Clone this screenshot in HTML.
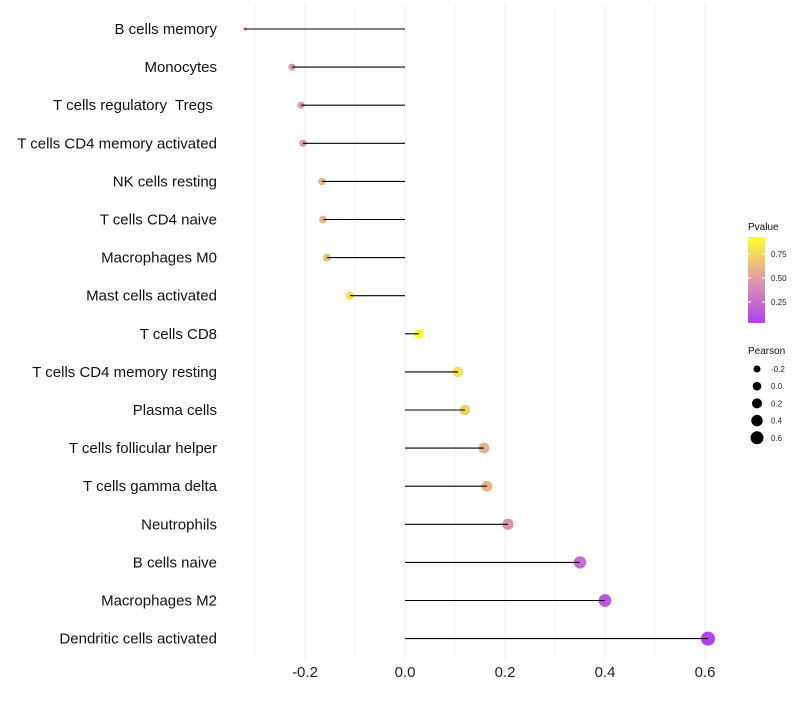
<!DOCTYPE html>
<html><head><meta charset="utf-8"><style>
body{margin:0;background:#fff;font-family:"Liberation Sans",sans-serif}
text{white-space:pre}
</style></head><body>
<svg id="chart" width="800" height="700" xmlns="http://www.w3.org/2000/svg">
<defs><linearGradient id="pg" x1="0" y1="1" x2="0" y2="0">
<stop offset="0" stop-color="#A020F0"/><stop offset="0.5" stop-color="#D88A9A"/><stop offset="1" stop-color="#FFFF00"/></linearGradient></defs>
<g id="grid"></g><g id="marks"></g><g id="labels"></g><g id="legend"></g>
</svg>
<script>
const categories=["B cells memory","Monocytes","T cells regulatory  Tregs ","T cells CD4 memory activated","NK cells resting","T cells CD4 naive","Macrophages M0","Mast cells activated","T cells CD8","T cells CD4 memory resting","Plasma cells","T cells follicular helper","T cells gamma delta","Neutrophils","B cells naive","Macrophages M2","Dendritic cells activated"];
const pearson=[-0.32,-0.226,-0.208,-0.204,-0.166,-0.164,-0.156,-0.11,0.028,0.106,0.12,0.158,0.164,0.206,0.35,0.40,0.606];
const pvalue=[0.2,0.45,0.47,0.45,0.62,0.6,0.65,0.8,0.93,0.78,0.72,0.58,0.6,0.45,0.25,0.15,0.04];
const xTicks=[-0.2,0,0.2,0.4,0.6];
const xMinor=[-0.3,-0.1,0.1,0.3,0.5];
const NS="http://www.w3.org/2000/svg";
const xs=v=>405+v*500;
const ys=i=>29+i*38.1;
const rs=v=>v<-0.3?1.6:Math.sqrt(Math.max(1,22.3+44.5*v));
function col(p){const t=Math.min(1,Math.max(0,(p-0.04)/(0.927-0.04)));
 const a=[160,32,240],m=[216,138,154],b=[255,255,0];let c;
 if(t<0.5){const u=t/0.5;c=a.map((x,k)=>x+(m[k]-x)*u)}else{const u=(t-0.5)/0.5;c=m.map((x,k)=>x+(b[k]-x)*u)}
 return `rgb(${c.map(Math.round).join(",")})`;}
function el(tag,attrs,parent){const e=document.createElementNS(NS,tag);for(const k in attrs)e.setAttribute(k,attrs[k]);parent.appendChild(e);return e;}
const grid=document.getElementById('grid'),marks=document.getElementById('marks'),labels=document.getElementById('labels'),legend=document.getElementById('legend');
xMinor.concat(xTicks).forEach(v=>{const l=el('line',{x1:xs(v),x2:xs(v),y1:5,y2:660,stroke:'#ebebeb','stroke-width':xTicks.includes(v)?1:0.6},grid);

});
xTicks.forEach(v=>{const t=el('text',{x:xs(v),y:677,'text-anchor':'middle','font-size':15,fill:'#222'},labels);t.textContent=v===0?'0.0':v.toFixed(1);

});
categories.forEach((c,i)=>{const y=ys(i);
 const t=el('text',{x:217,y:y+5,'text-anchor':'end','font-size':15,fill:'#111'},labels);t.textContent=c;
 
 
 const p=el('circle',{cx:xs(pearson[i]),cy:y,r:rs(pearson[i]),fill:col(pvalue[i]),'fill-opacity':0.85},marks);
 
 
 const l=el('line',{x1:xs(0),x2:xs(pearson[i]),y1:y,y2:y,stroke:'#000','stroke-width':1.1},marks);
 
 });
let t=el('text',{x:748,y:230,'font-size':10,fill:'#111'},legend);t.textContent='Pvalue';

let r=el('rect',{x:748,y:237,width:17,height:86,fill:'url(#pg)','fill-opacity':0.85},legend);

[[0.75,254],[0.50,278],[0.25,302]].forEach(([v,y])=>{el('line',{x1:748,x2:751,y1:y,y2:y,stroke:'#fff'},legend);el('line',{x1:762,x2:765,y1:y,y2:y,stroke:'#fff'},legend);
 const tt=el('text',{x:771,y:y+3,'font-size':8,fill:'#222'},legend);tt.textContent=v.toFixed(2);
 });
t=el('text',{x:748,y:354,'font-size':10,fill:'#111'},legend);t.textContent='Pearson';

[-0.2,0,0.2,0.4,0.6].forEach((v,k)=>{const y=369+k*17.2;
 const c=el('circle',{cx:757,cy:y,r:[3.5,4.3,5,5.7,6.5][k],fill:'#000'},legend);
 
 const tt=el('text',{x:771,y:y+3,'font-size':8,fill:'#222'},legend);tt.textContent=v===0?'0.0':v.toFixed(1);
 });
</script>
</body></html>
